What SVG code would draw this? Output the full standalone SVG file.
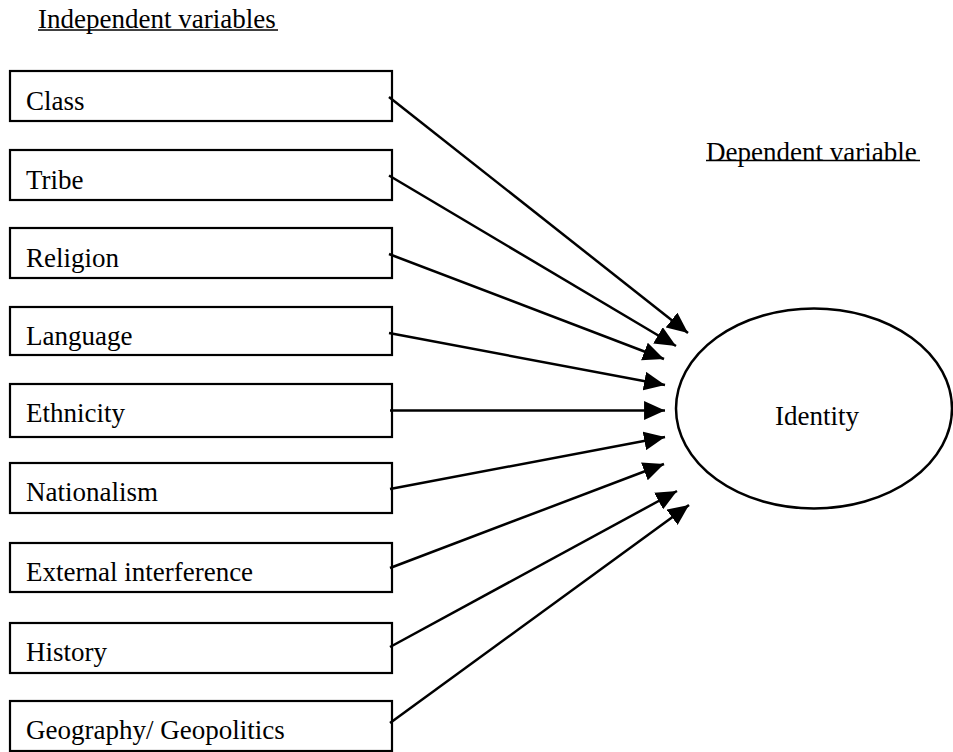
<svg xmlns="http://www.w3.org/2000/svg" width="953" height="752" viewBox="0 0 953 752">
<defs>
<style>
text{font-family:"Liberation Serif","Times New Roman",serif;font-size:27px;fill:#000}
.box{fill:#fff;stroke:#000;stroke-width:2.2}
.conn line{stroke:#000;stroke-width:2.5;fill:none}
</style>
<marker id="ah" markerUnits="userSpaceOnUse" markerWidth="22" markerHeight="19" refX="20" refY="9" orient="auto" viewBox="0 0 21 18">
<path d="M0,0 L20,9 L0,18 z" fill="#000"/>
</marker>
</defs>
<rect width="953" height="752" fill="#fff"/>
<g id="header-independent">
<text x="38" y="28">Independent variables</text>
<line x1="38" y1="30" x2="278" y2="30" stroke="#000" stroke-width="1.3"/>
</g>
<g id="header-dependent">
<text x="706" y="161">Dependent variable</text>
<line x1="706" y1="160.5" x2="920" y2="160.5" stroke="#000" stroke-width="1.3"/>
</g>
<g id="n-class"><rect class="box" x="10" y="71" width="382" height="50"/><text x="26" y="110">Class</text></g>
<g id="n-tribe"><rect class="box" x="10" y="150" width="382" height="50"/><text x="26" y="189">Tribe</text></g>
<g id="n-religion"><rect class="box" x="10" y="228" width="382" height="50"/><text x="26" y="267">Religion</text></g>
<g id="n-language"><rect class="box" x="10" y="307" width="382" height="48"/><text x="26" y="345">Language</text></g>
<g id="n-ethnicity"><rect class="box" x="10" y="384" width="382" height="53"/><text x="26" y="422">Ethnicity</text></g>
<g id="n-nationalism"><rect class="box" x="10" y="463" width="382" height="50"/><text x="26" y="501">Nationalism</text></g>
<g id="n-external"><rect class="box" x="10" y="543" width="382" height="49"/><text x="26" y="581">External interference</text></g>
<g id="n-history"><rect class="box" x="10" y="623" width="382" height="50"/><text x="26" y="661">History</text></g>
<g id="n-geography"><rect class="box" x="10" y="701" width="382" height="50"/><text x="26" y="739">Geography/ Geopolitics</text></g>
<g id="n-identity">
<ellipse cx="814" cy="408.5" rx="138" ry="100" fill="#fff" stroke="#000" stroke-width="2.5"/>
<text x="817" y="425" text-anchor="middle">Identity</text>
</g>
<g id="connectors" class="conn">
<line x1="389" y1="97" x2="688" y2="333" marker-end="url(#ah)"/>
<line x1="389" y1="175.5" x2="676" y2="346" marker-end="url(#ah)"/>
<line x1="389" y1="254" x2="664" y2="359" marker-end="url(#ah)"/>
<line x1="389" y1="333" x2="665" y2="385" marker-end="url(#ah)"/>
<line x1="390" y1="410.5" x2="665" y2="410.5" marker-end="url(#ah)"/>
<line x1="390" y1="489" x2="665" y2="437" marker-end="url(#ah)"/>
<line x1="390" y1="568" x2="664" y2="464" marker-end="url(#ah)"/>
<line x1="390" y1="647" x2="677" y2="491" marker-end="url(#ah)"/>
<line x1="390" y1="723" x2="689" y2="505" marker-end="url(#ah)"/>
</g>
</svg>
